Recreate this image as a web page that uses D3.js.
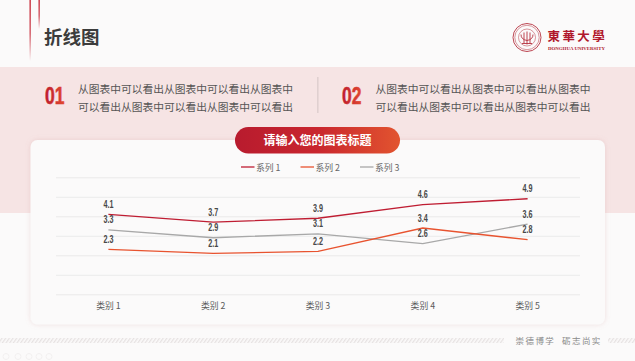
<!DOCTYPE html>
<html>
<head>
<meta charset="utf-8">
<script src="https://cdn.jsdelivr.net/npm/d3@7"></script>
<style>
html,body{margin:0;padding:0;background:#fbfafa;overflow:hidden;}
svg{display:block;}
</style>
</head>
<body>
<script>
var categories = ["类别 1", "类别 2", "类别 3", "类别 4", "类别 5"];
var seriesNames = ["系列 1", "系列 2", "系列 3"];
var series1 = [4.1, 3.7, 3.9, 4.6, 4.9];
var series2 = [2.3, 2.1, 2.2, 3.4, 2.8];
var series3 = [3.3, 2.9, 3.1, 2.6, 3.6];
var yTicks = [0, 1, 2, 3, 4, 5, 6];
var colors = ["#bf1d32", "#e8532f", "#a8a8a8"];
var heading = "折线图";
var chartTitle = "请输入您的图表标题";
var bodyLines = ["从图表中可以看出从图表中可以看出从图表中", "可以看出从图表中可以看出从图表中可以看出"];
var motto = "崇德博学  砺志尚实";

function init(){
	var w = 635;
	var h = 361;
	var cjk = "'Noto Sans CJK SC', sans-serif";
	var sans = "'Liberation Sans', sans-serif";

	var svg = d3.select("body").append("svg")
		.attr("width", w)
		.attr("height", h);
	var defs = svg.append("defs");

	function gradient(id, x2, y2, stops){
		var g = defs.append("linearGradient").attr("id", id)
			.attr("x1", 0).attr("y1", 0).attr("x2", x2).attr("y2", y2);
		stops.forEach(function(s){
			g.append("stop").attr("offset", s[0]).attr("stop-color", s[1]).attr("stop-opacity", s[2]);
		});
	}
	gradient("pill", 1, 0, [[0, "#b81b2e", 1], [0.5, "#c9262e", 1], [1, "#e2542f", 1]]);
	gradient("num", 1, 0, [[0, "#bd1c30", 1], [1, "#e2492f", 1]]);
	gradient("fade", 0, 1, [[0, "#c4202f", 1], [0.55, "#c4202f", 0.8], [1, "#c4202f", 0]]);

	var hatch = defs.append("pattern").attr("id", "hatch")
		.attr("width", 3).attr("height", 3)
		.attr("patternUnits", "userSpaceOnUse")
		.attr("patternTransform", "rotate(35)");
	hatch.append("rect").attr("width", 1.3).attr("height", 3).attr("fill", "#e6e2e2");

	var shadow = defs.append("filter").attr("id", "shadow")
		.attr("x", "-5%").attr("y", "-5%").attr("width", "110%").attr("height", "110%");
	shadow.append("feDropShadow").attr("dx", 0).attr("dy", 0)
		.attr("stdDeviation", 2.5).attr("flood-color", "#c98a8a").attr("flood-opacity", 0.25);

	//Background band
	svg.append("rect").attr("x", 0).attr("y", 67).attr("width", w).attr("height", 146).attr("fill", "#f6e4e4");

	//Header
	svg.append("rect").attr("x", 29.5).attr("y", 0).attr("width", 1.3).attr("height", 61).attr("fill", "url(#fade)");
	svg.append("rect").attr("x", 38.5).attr("y", 0).attr("width", 1.3).attr("height", 29).attr("fill", "url(#fade)");
	svg.append("text").text(heading)
		.attr("x", 44).attr("y", 43.5)
		.attr("font-family", cjk).attr("font-weight", 700).attr("font-size", "18.5px").attr("fill", "#3c3c3c");

	//Logo
	var logo = svg.append("g").attr("transform", "translate(527,37.5)")
		.attr("fill", "none").attr("stroke", "#b5323f");
	[[14, 0.9], [12.2, 0.5], [8.5, 0.5]].forEach(function(c){
		logo.append("circle").attr("r", c[0]).attr("stroke-width", c[1]);
	});
	logo.append("path").attr("stroke-width", 0.9)
		.attr("d", "M0,-6V7M-3,-5V6M3,-5V6M-6,-3Q-6,2 0,3Q6,2 6,-3M-5,6H5");
	svg.append("text").text("東華大學")
		.attr("x", 547.5).attr("y", 41)
		.attr("font-family", cjk).attr("font-weight", 700).attr("font-size", "12.5px")
		.attr("letter-spacing", "2.4px").attr("fill", "#b0182c");
	svg.append("text").text("DONGHUA UNIVERSITY")
		.attr("x", 548).attr("y", 49.5)
		.attr("textLength", 57).attr("lengthAdjust", "spacingAndGlyphs")
		.attr("font-family", "'Liberation Serif', serif").attr("font-weight", 700).attr("font-size", "4.7px")
		.attr("fill", "#b0182c");

	//Text blocks
	function block(x, numX, num){
		svg.append("text").text(num)
			.attr("x", numX).attr("y", 104)
			.attr("textLength", 19.5).attr("lengthAdjust", "spacingAndGlyphs")
			.attr("font-family", sans).attr("font-weight", 700).attr("font-size", "23px")
			.attr("stroke", "url(#num)").attr("stroke-width", 0.5)
			.attr("fill", "url(#num)");
		bodyLines.forEach(function(t, i){
			svg.append("text").text(t)
				.attr("x", x).attr("y", 93 + i * 18)
				.attr("font-family", cjk).attr("font-size", "10.75px").attr("fill", "#555");
		});
	}
	block(78, 45, "01");
	block(375.5, 342, "02");
	svg.append("rect").attr("x", 317.5).attr("y", 77).attr("width", 0.8).attr("height", 36).attr("fill", "#c9bcbc");

	//Card
	svg.append("rect")
		.attr("x", 30.5).attr("y", 140).attr("width", 574.5).attr("height", 184.5).attr("rx", 7)
		.attr("fill", "#fbfafa").attr("filter", "url(#shadow)");

	//Title pill
	svg.append("rect")
		.attr("x", 235).attr("y", 127).attr("width", 165).attr("height", 26.5).attr("rx", 13.25)
		.attr("fill", "url(#pill)");
	svg.append("text").text(chartTitle)
		.attr("x", 317.5).attr("y", 144.5).attr("text-anchor", "middle")
		.attr("font-family", cjk).attr("font-weight", 700).attr("font-size", "12px").attr("fill", "#fff");

	//Scales
	var xScale = d3.scaleBand()
		.domain(categories)
		.range([56, 580]);
	var yScale = d3.scaleLinear()
		.domain([0, 6])
		.range([294.3, 177.3]);
	function cx(i){
		return xScale(categories[i]) + xScale.bandwidth() / 2;
	}

	//Grid
	var yAxis = d3.axisLeft(yScale).tickValues(yTicks).tickSize(-524).tickFormat("");
	var gy = svg.append("g").attr("transform", "translate(56,0)").call(yAxis);
	gy.select(".domain").remove();
	gy.selectAll("line").attr("stroke", "#e9e9e9").attr("stroke-width", 0.9);

	//Category axis
	var xAxis = d3.axisBottom(xScale).tickSize(0).tickPadding(8);
	var gx = svg.append("g").attr("transform", "translate(0,294.3)").call(xAxis);
	gx.select(".domain").remove();
	gx.selectAll("text")
		.attr("font-family", cjk).attr("font-size", "8.8px").attr("fill", "#5a5a5a");

	//Lines
	var line = d3.line()
		.x(function(d, i){ return cx(i); })
		.y(function(d){ return yScale(d); });
	var allSeries = [series1, series2, series3];
	[2, 1, 0].forEach(function(k){
		svg.append("path")
			.attr("d", line(allSeries[k]))
			.attr("fill", "none")
			.attr("stroke", colors[k])
			.attr("stroke-width", 1.35);
	});

	//Value labels
	allSeries.forEach(function(values){
		svg.append("g").selectAll("text")
			.data(values)
			.enter()
			.append("text")
			.text(function(d){ return d.toFixed(1); })
			.attr("x", function(d, i){ return cx(i); })
			.attr("y", function(d){ return yScale(d) - 6.5; })
			.attr("text-anchor", "middle")
			.attr("textLength", 10).attr("lengthAdjust", "spacingAndGlyphs")
			.attr("font-family", sans).attr("font-weight", 700).attr("font-size", "10.5px")
			.attr("fill", "#484848");
	});

	//Legend
	var legendX = [241, 300.5, 360];
	seriesNames.forEach(function(name, i){
		svg.append("line")
			.attr("x1", legendX[i]).attr("x2", legendX[i] + 13.5)
			.attr("y1", 167).attr("y2", 167)
			.attr("stroke", colors[i]).attr("stroke-width", 1.3);
		svg.append("text").text(name)
			.attr("x", legendX[i] + 15).attr("y", 170.5)
			.attr("font-family", cjk).attr("font-size", "8.8px").attr("fill", "#666");
	});

	//Footer
	svg.append("rect").attr("x", 0).attr("y", 338).attr("width", 504).attr("height", 5).attr("fill", "url(#hatch)");
	svg.append("rect").attr("x", 608).attr("y", 338).attr("width", 27).attr("height", 5).attr("fill", "url(#hatch)");
	svg.append("text").text(motto)
		.attr("x", 515.5).attr("y", 344)
		.style("white-space", "pre")
		.attr("font-family", cjk).attr("font-size", "8.5px").attr("letter-spacing", "1.45px").attr("fill", "#8a8a8a");
	[6, 18, 29, 39, 49].forEach(function(x){
		svg.append("circle").attr("cx", x).attr("cy", 356.5).attr("r", 3)
			.attr("fill", "none").attr("stroke", "#f0eeee").attr("stroke-width", 0.8);
	});
}
window.onload = init;
</script>
</body>
</html>
